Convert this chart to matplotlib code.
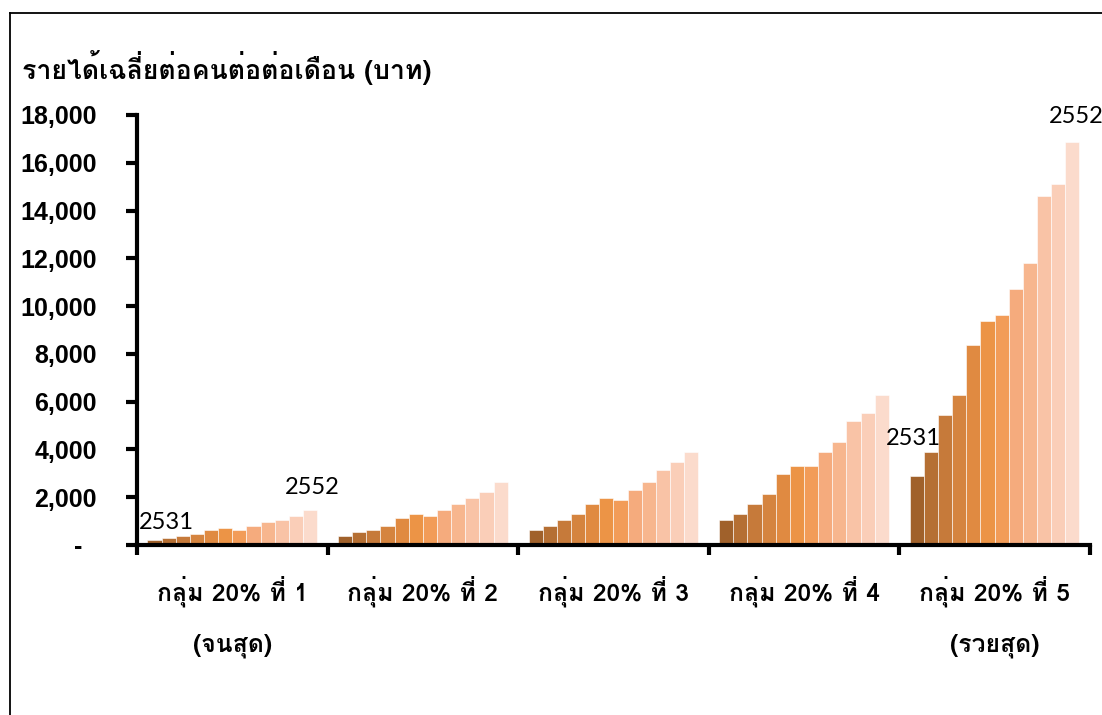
import matplotlib
matplotlib.use("Agg")
import matplotlib.pyplot as plt
from matplotlib import font_manager as fm
from matplotlib.ft2font import FT2Font
from matplotlib.lines import Line2D
import numpy as np

# survey years inside each quintile group
years = [2531, 2533, 2535, 2537, 2539, 2541, 2543, 2545, 2547, 2549, 2550, 2552]

groups = ["กลุ่ม 20% ที่ 1\n(จนสุด)", "กลุ่ม 20% ที่ 2", "กลุ่ม 20% ที่ 3",
          "กลุ่ม 20% ที่ 4", "กลุ่ม 20% ที่ 5\n(รวยสุด)"]

# average monthly income per person (baht)
q1 = [200, 290, 375, 460, 625, 710, 625, 790, 960, 1040, 1210, 1460]
q2 = [375, 540, 625, 790, 1125, 1290, 1210, 1460, 1710, 1960, 2210, 2625]
q3 = [625, 790, 1040, 1290, 1710, 1960, 1875, 2290, 2625, 3125, 3460, 3875]
q4 = [1040, 1290, 1710, 2125, 2960, 3290, 3290, 3875, 4290, 5210, 5540, 6290]
q5 = [2875, 3875, 5460, 6290, 8375, 9375, 9625, 10710, 11790, 14625, 15125, 16875]

yticks = [0, 2000, 4000, 6000, 8000, 10000, 12000, 14000, 16000, 18000]
ylabels = ["-  "] + [f"{v:,}" for v in yticks[1:]]

colors = ['#A0612B', '#B56F33', '#C67A3A', '#D5843F', '#E08A41', '#EC9446',
          '#F29C58', '#F5AB7D', '#F7B68E', '#F9C3A6', '#FACEB8', '#FBDBCC']


def thai_font():
    # pick the first installed font that has Thai glyphs
    for f in fm.fontManager.ttflist:
        try:
            if ord('ก') in FT2Font(f.fname).get_charmap():
                return f.name
        except Exception:
            pass
    return 'DejaVu Sans'


thai = thai_font()
fam = [thai, 'Liberation Sans', 'DejaVu Sans']

fig = plt.figure(figsize=(11.02, 7.15), dpi=100)
ax = fig.add_axes([0.1243, 0.2378, 0.8647, 0.6014])

data = [q1, q2, q3, q4, q5]
n = len(years)
w = 0.0742
for g, vals in enumerate(data):
    xs = g + 0.5 + (np.arange(n) - (n - 1) / 2) * w
    ax.bar(xs, vals, width=w, color=colors, edgecolor='#FFFFFF', linewidth=0.4, zorder=2)

# year labels on first and last bars of the poorest and richest groups
x_first = 0.5 - (n - 1) / 2 * w
x_last = 0.5 + (n - 1) / 2 * w
lab_font = dict(family=['Lato', 'DejaVu Sans'], fontsize=17, color='black')
ax.annotate(str(years[0]), (x_first, q1[0]), xytext=(12, 18), textcoords='offset pixels',
            ha='center', va='center', **lab_font)
ax.annotate(str(years[-1]), (x_last, q1[-1]), xytext=(2, 23), textcoords='offset pixels',
            ha='center', va='center', **lab_font)
ax.annotate(str(years[0]), (4 + x_first, q5[0]), xytext=(-3, 38), textcoords='offset pixels',
            ha='center', va='center', **lab_font)
ax.annotate(str(years[-1]), (4 + x_last, q5[-1]), xytext=(4, 25), textcoords='offset pixels',
            ha='center', va='center', annotation_clip=False, **lab_font)

ax.set_xlim(0, 5)
ax.set_ylim(0, 18000)
ax.set_yticks(yticks)
ax.set_yticklabels(ylabels, fontsize=18, fontweight='bold', family=['Liberation Sans'])
ax.tick_params(axis='y', length=8, width=3, direction='out', pad=21)

ax.set_xticks(range(6))
ax.set_xticklabels([])
ax.tick_params(axis='x', which='major', length=7, width=3, direction='out')
ax.set_xticks([i + 0.5 for i in range(5)], minor=True)
ax.set_xticklabels(groups, minor=True, fontsize=17.8, fontweight='bold', family=fam,
                   linespacing=2.45, va='top')
ax.tick_params(axis='x', which='minor', length=0, pad=22)

for s in ['top', 'right']:
    ax.spines[s].set_visible(False)
ax.spines['left'].set_linewidth(3)
ax.spines['bottom'].set_linewidth(3)
ax.spines['bottom'].set_zorder(3)

fig.text(0.02, 0.906, "รายได้เฉลี่ยต่อคนต่อต่อเดือน (บาท)", fontsize=19.2, fontweight='bold',
         family=fam, ha='left', va='center')

# outer frame of the chart area
fig.add_artist(Line2D([0.0095, 0.0095], [0.0, 0.982], color='black', lw=1.3,
                      transform=fig.transFigure))
fig.add_artist(Line2D([0.0095, 1.0], [0.982, 0.982], color='black', lw=1.3,
                      transform=fig.transFigure))

fig.savefig("out.png", dpi=100)
